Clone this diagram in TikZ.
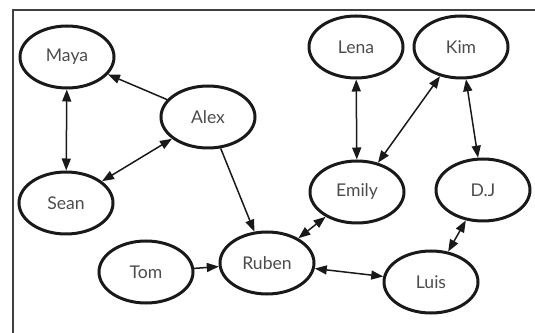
\documentclass[tikz,border=0pt]{standalone}
\usepackage{fontspec}
\setmainfont{Lato}
\usepackage{xcolor}
\usepackage{tikz}
\usetikzlibrary{positioning,shapes.geometric,arrows.meta}

\begin{document}
\begin{tikzpicture}[x=0.2mm, y=-0.2mm,
    person/.style={draw=black!90, ellipse, line width=0.06cm, minimum width=1.88cm,
      minimum height=1.24cm, inner sep=0pt, text=black!70, font=\normalsize},
    tie/.style={black!90, line width=0.03cm, {Triangle[length=2.4mm,width=1.8mm]}-{Triangle[length=2.4mm,width=1.8mm]}},
    onetie/.style={black!90, line width=0.03cm, -{Triangle[length=2.4mm,width=1.8mm]}}]
      \useasboundingbox (0,0) rectangle (535,333);

      \coordinate (TL) at (13, 10);
      \coordinate (TR) at (535, 10);
      \coordinate (BL) at (13, 333);

      \draw [black!75, line width=0.04cm] (TR) -- (TL) -- (BL);

      \node [person] (maya)  at (67, 57)   {Maya};
      \node [person] (alex)  at (208, 117) {Alex};
      \node [person] (sean)  at (66, 203)  {Sean};
      \node [person] (tom)   at (146, 272) {Tom};
      \node [person] (ruben) at (267, 263) {Ruben};
      \node [person] (emily) at (357, 192) {Emily};
      \node [person] (lena)  at (356, 47)  {Lena};
      \node [person] (kim)   at (461, 47)  {Kim};
      \node [person] (dj)    at (483, 190) {D.J};
      \node [person] (luis)  at (431, 282) {Luis};

      \draw [onetie] (alex) -- (maya);
      \draw [tie] (maya) -- (sean);
      \draw [tie] (sean) -- (alex);
      \draw [onetie] (alex) -- (ruben);
      \draw [onetie] (tom) -- (ruben);
      \draw [tie] (ruben) -- (emily);
      \draw [tie] (ruben) -- (luis);
      \draw [tie] (emily) -- (lena);
      \draw [tie] (emily) -- (kim);
      \draw [tie] (kim) -- (dj);
      \draw [tie] (dj) -- (luis);
\end{tikzpicture}
\end{document}
